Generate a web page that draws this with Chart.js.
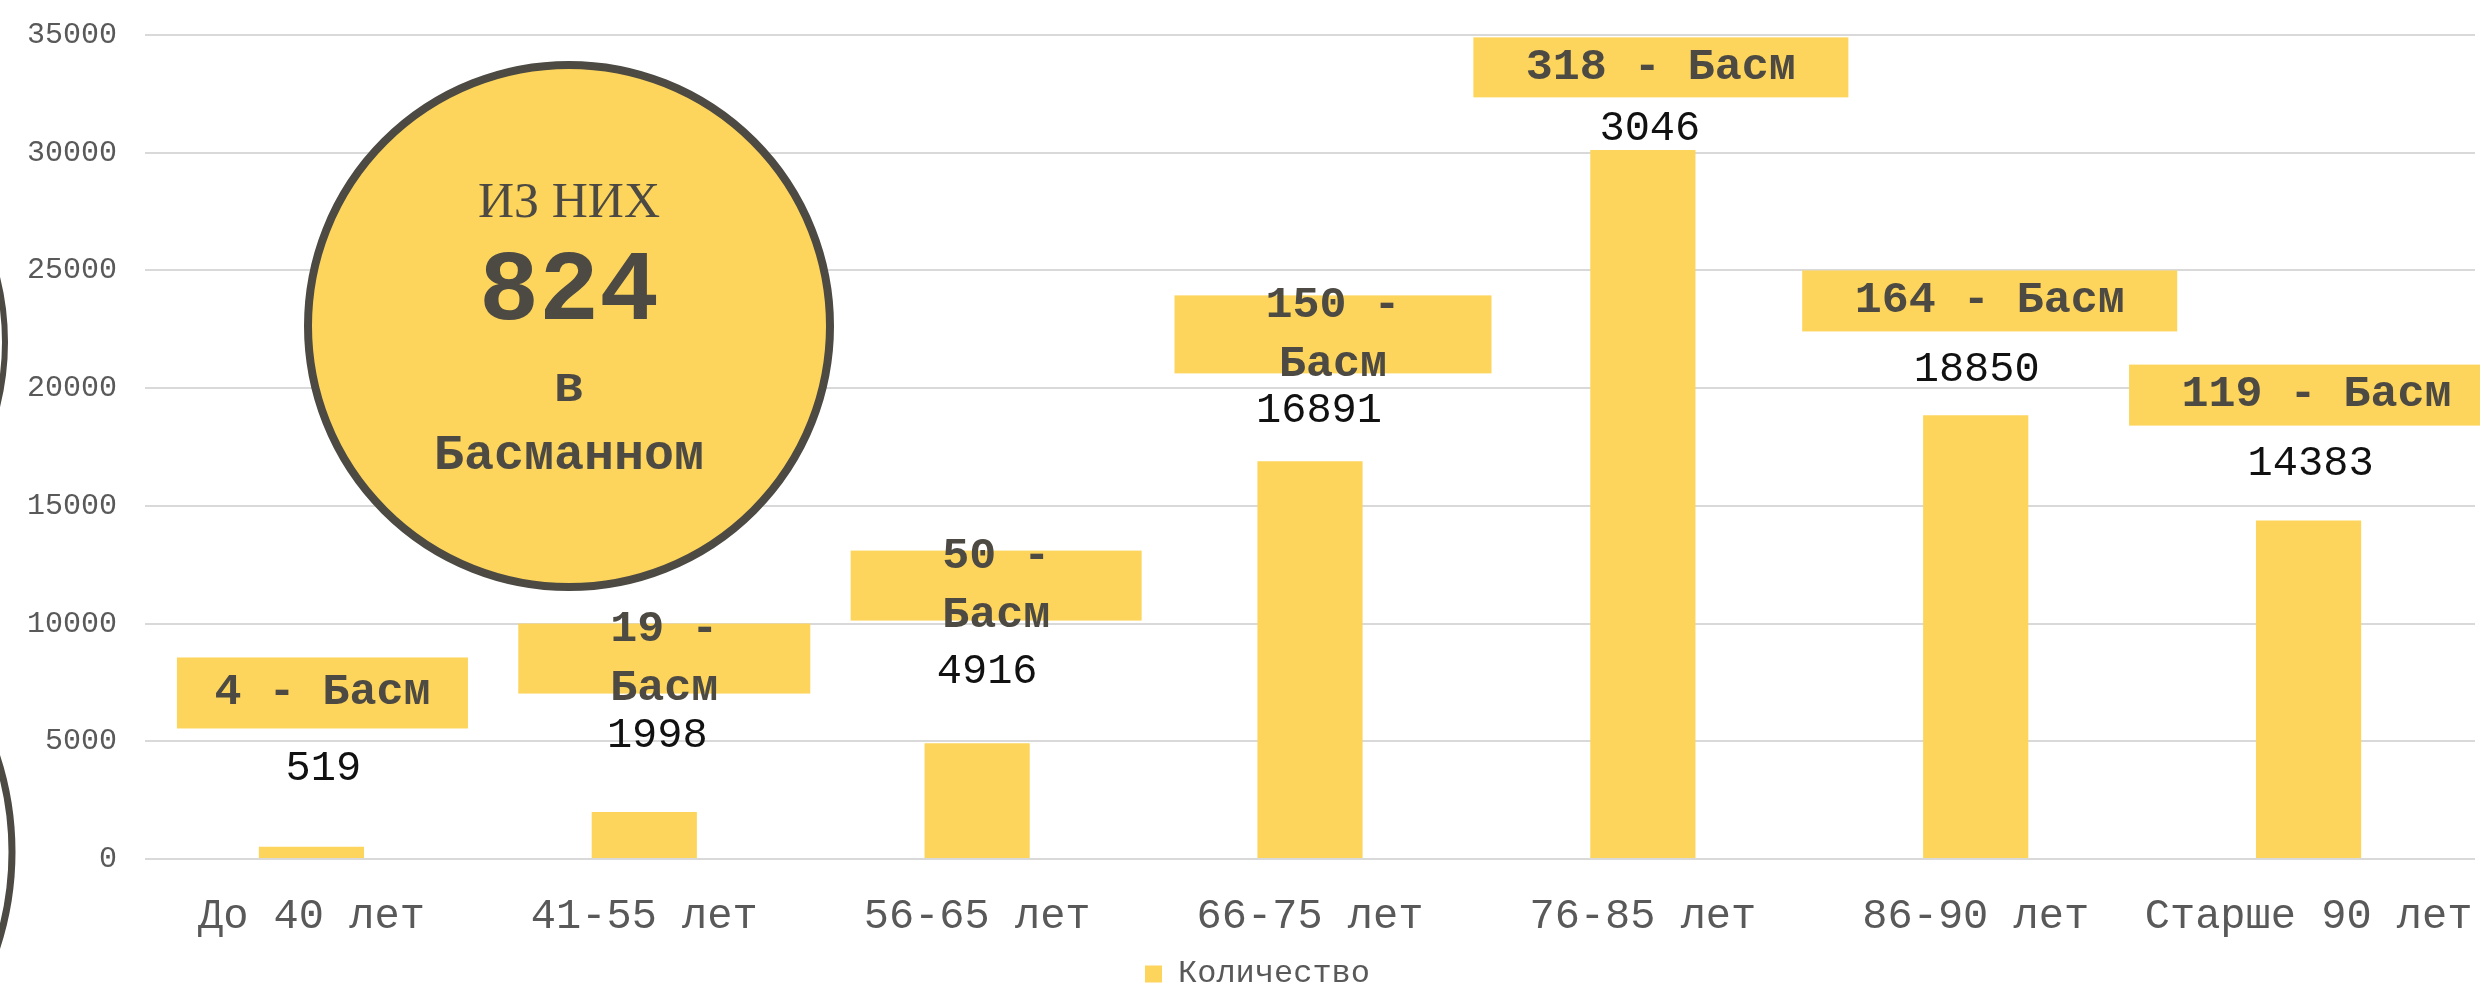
<!DOCTYPE html>
<html lang="ru">
<head>
<meta charset="utf-8">
<title>Количество</title>
<script src="https://cdn.jsdelivr.net/npm/chart.js@4.4.1/dist/chart.umd.min.js"></script>
<style>
    html, body { margin: 0; padding: 0; background: #ffffff; }
    #wrap { width: 2480px; height: 988px; position: relative; }
</style>
</head>
<body>
<div id="wrap"><canvas id="ageChart"></canvas></div>
<script>
// Data
const ageGroups = ['До 40 лет', '41-55 лет', '56-65 лет', '66-75 лет', '76-85 лет', '86-90 лет', 'Старше 90 лет'];
const totals = [519, 1998, 4916, 16891, 30120, 18850, 14383];
const totalLabels = ['519', '1998', '4916', '16891', '3046', '18850', '14383'];
const basmannyCounts = [4, 19, 50, 150, 318, 164, 119];
const basmannyTotal = 824;
const yMax = 35000;
const yStep = 5000;

// Look
const yellow = '#FDD55C';
const darkGrey = '#4D4A44';
const axisGrey = '#595959';
const mono = '"Liberation Mono", "DejaVu Sans Mono", monospace';

// Label placement (pixels above the bar top, sideways shift)
const labelLift = [78, 76, 71, 50, 21, 45, 57];
const labelShift = [12, 13, 10, 9, 7, 1, 2];

// Yellow note boxes: top edge in axis units, size in pixels
const noteBoxes = [
    { dx: 11, top: 8560, w: 291, h: 71 },
    { dx: 20, top: 10000, w: 292, h: 70 },
    { dx: 19, top: 13100, w: 291, h: 70 },
    { dx: 23, top: 23940, w: 317, h: 78 },
    { dx: 18, top: 34900, w: 375, h: 60 },
    { dx: 14, top: 25000, w: 375, h: 61 },
    { dx: 8, top: 21000, w: 375, h: 61 }
];

// Bar value labels
const valueLabelPlugin = {
    id: 'valueLabels',
    afterDatasetsDraw(chart) {
        const ctx = chart.ctx;
        const meta = chart.getDatasetMeta(0);
        ctx.save();
        ctx.font = '42px ' + mono;
        ctx.fillStyle = '#111111';
        ctx.textAlign = 'center';
        ctx.textBaseline = 'middle';
        meta.data.forEach((bar, i) => {
            ctx.fillText(totalLabels[i], bar.x + labelShift[i], bar.y - labelLift[i]);
        });
        ctx.restore();
    }
};

// Note boxes "N - Басм"
const noteBoxPlugin = {
    id: 'noteBoxes',
    afterDatasetsDraw(chart) {
        const ctx = chart.ctx;
        const x = chart.scales.x;
        const y = chart.scales.y;
        ctx.save();
        ctx.font = 'bold 45px ' + mono;
        ctx.textAlign = 'center';
        ctx.textBaseline = 'middle';
        basmannyCounts.forEach((n, i) => {
            const b = noteBoxes[i];
            const cx = x.getPixelForValue(i) + b.dx;
            const top = y.getPixelForValue(b.top);
            ctx.fillStyle = yellow;
            ctx.fillRect(cx - b.w / 2, top, b.w, b.h);
            ctx.fillStyle = darkGrey;
            const text = n + ' - Басм';
            const cy = top + b.h / 2;
            if (ctx.measureText(text).width > b.w - 60) {
                ctx.fillText(n + ' -', cx, cy - 29);
                ctx.fillText('Басм', cx, cy + 30);
            } else {
                ctx.fillText(text, cx, cy);
            }
        });
        ctx.restore();
    }
};

// Big circle with the total and the cut-off circles at the left edge
const circlePlugin = {
    id: 'circles',
    afterDatasetsDraw(chart) {
        const ctx = chart.ctx;
        ctx.save();
        ctx.strokeStyle = darkGrey;

        ctx.lineWidth = 6;
        ctx.beginPath();
        ctx.arc(-260, 342, 265, 0, Math.PI * 2);
        ctx.stroke();
        ctx.lineWidth = 7;
        ctx.beginPath();
        ctx.arc(-295, 852, 307, 0, Math.PI * 2);
        ctx.stroke();

        const cx = 569, cy = 326;
        ctx.beginPath();
        ctx.arc(cx, cy, 261, 0, Math.PI * 2);
        ctx.fillStyle = yellow;
        ctx.fill();
        ctx.lineWidth = 8;
        ctx.stroke();

        ctx.fillStyle = darkGrey;
        ctx.textAlign = 'center';
        ctx.textBaseline = 'middle';
        ctx.font = '50px "Liberation Serif", "DejaVu Serif", serif';
        ctx.fillText('ИЗ НИХ', cx, 204);
        ctx.font = 'bold 100px ' + mono;
        ctx.fillText(String(basmannyTotal), cx, 294);
        ctx.font = 'bold 50px ' + mono;
        ctx.fillText('в', cx, 388);
        ctx.fillText('Басманном', cx, 456);
        ctx.restore();
    }
};

// Legend sits a bit right of the page centre in the original
const legendShiftPlugin = {
    id: 'legendShift',
    afterLayout(chart) {
        if (chart.legend) {
            chart.legend.left += 20;
            chart.legend.right += 20;
        }
    }
};

document.addEventListener('DOMContentLoaded', function () {
    const ctx = document.getElementById('ageChart').getContext('2d');
    new Chart(ctx, {
        type: 'bar',
        data: {
            labels: ageGroups,
            datasets: [{
                label: 'Количество',
                data: totals,
                backgroundColor: yellow,
                borderWidth: 0,
                categoryPercentage: 1,
                barPercentage: 0.316
            }]
        },
        options: {
            responsive: true,
            maintainAspectRatio: false,
            animation: false,
            layout: {
                padding: { top: 35, right: 5, bottom: -12, left: 0 }
            },
            plugins: {
                legend: {
                    position: 'bottom',
                    labels: {
                        boxWidth: 17,
                        boxHeight: 17,
                        padding: 10,
                        color: axisGrey,
                        font: { family: mono, size: 32 }
                    }
                },
                tooltip: { enabled: false }
            },
            scales: {
                x: {
                    grid: { display: false },
                    border: { display: false },
                    ticks: {
                        color: axisGrey,
                        padding: 25,
                        maxRotation: 0,
                        autoSkip: false,
                        font: { family: mono, size: 42 }
                    },
                    afterFit: function (scale) {
                        scale.height = 89;
                        scale.paddingLeft = 0;
                        scale.paddingRight = 0;
                    }
                },
                y: {
                    min: 0,
                    max: yMax,
                    border: { display: false },
                    grid: { color: '#D9D9D9', lineWidth: 2, drawTicks: false },
                    ticks: {
                        stepSize: yStep,
                        color: axisGrey,
                        padding: 28,
                        font: { family: mono, size: 30 },
                        callback: function (value) { return String(value); }
                    },
                    afterFit: function (scale) {
                        scale.width = 145;
                        scale.paddingTop = 0;
                        scale.paddingBottom = 0;
                    }
                }
            }
        },
        plugins: [noteBoxPlugin, valueLabelPlugin, circlePlugin, legendShiftPlugin]
    });
});
</script>
</body>
</html>
